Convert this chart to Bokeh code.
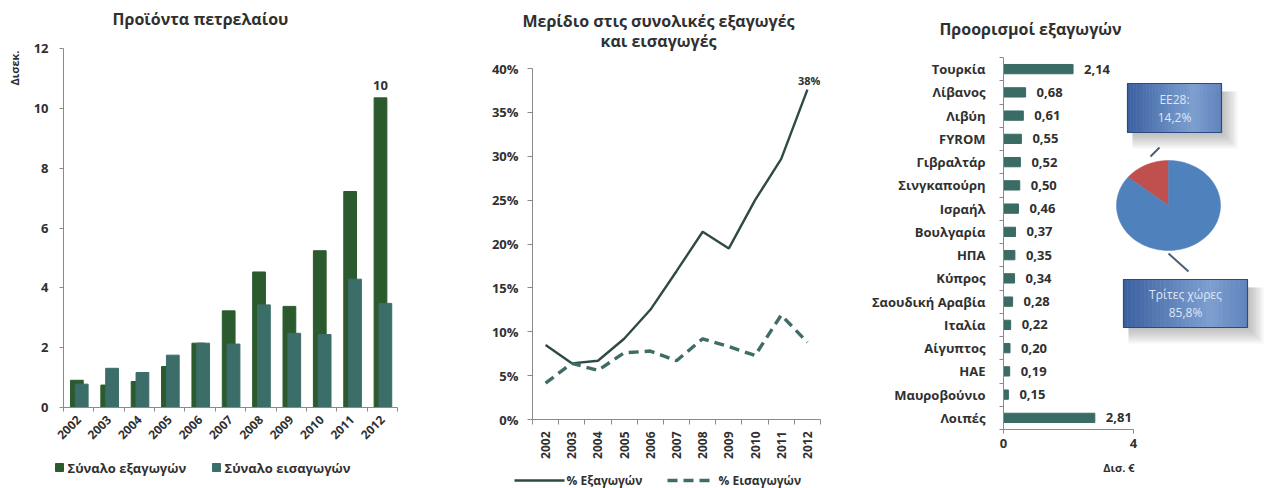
import numpy as np
from bokeh.plotting import figure
from bokeh.layouts import row, column
from bokeh.models import (Range1d, FixedTicker, PrintfTickFormatter,
                          ColumnDataSource)
from bokeh.transform import dodge
from bokeh.core.properties import value
from bokeh.embed import file_html
from bokeh.resources import INLINE

# ---------------------------------------------------------------- data
years = ["2002", "2003", "2004", "2005", "2006", "2007",
         "2008", "2009", "2010", "2011", "2012"]

# Petroleum products, billion euro
exports_bn = [0.91, 0.75, 0.87, 1.37, 2.15, 3.23, 4.53, 3.38, 5.24, 7.22, 10.35]
imports_bn = [0.78, 1.31, 1.17, 1.75, 2.15, 2.12, 3.43, 2.48, 2.44, 4.29, 3.48]
series_names = ["Σύναλο εξαγωγών", "Σύναλο εισαγωγών"]

# Share in total exports / imports, %
export_share = [8.5, 6.4, 6.7, 9.2, 12.5, 16.9, 21.4, 19.5, 25.0, 29.7, 37.6]
import_share = [4.15, 6.4, 5.6, 7.6, 7.8, 6.7, 9.2, 8.3, 7.3, 11.9, 8.8]
share_names = ["% Εξαγωγών", "% Εισαγωγών"]

# Export destinations, billion euro
destinations = ["Τουρκία", "Λίβανος", "Λιβύη", "FYROM", "Γιβραλτάρ",
                "Σινγκαπούρη", "Ισραήλ", "Βουλγαρία", "ΗΠΑ", "Κύπρος",
                "Σαουδική Αραβία", "Ιταλία", "Αίγυπτος", "ΗΑΕ",
                "Μαυροβούνιο", "Λοιπές"]
dest_values = [2.14, 0.68, 0.61, 0.55, 0.52, 0.50, 0.46, 0.37, 0.35,
               0.34, 0.28, 0.22, 0.20, 0.19, 0.15, 2.81]

# EU28 vs third countries, %
pie_names = ["ΕΕ28", "Τρίτες χώρες"]
pie_shares = [14.2, 85.8]

# ---------------------------------------------------------------- style
FONT = "Open Sans"
TXT = "#303030"
AX = "#8a8a8a"
EXP_GREEN = "#2b5a2f"
IMP_TEAL = "#3b6d69"
BAR_TEAL = "#3a6b64"
LINE_DARK = "#2e4a45"
LINE_DASH = "#3e6c66"


def comma(v, nd=2):
    return f"{v:.{nd}f}".replace(".", ",")


def no_align(p):
    # keep each panel's frame independent inside rows / columns
    if "frame_align" in p.properties():
        p.frame_align = False
    return p


def plain_fig(width, height):
    """Blank panel for titles and keys; y counts up from the bottom."""
    p = figure(width=width, height=height, x_range=Range1d(0, width),
               y_range=Range1d(0, height), output_backend="svg",
               toolbar_location=None, min_border=0,
               x_axis_type=None, y_axis_type=None)
    p.outline_line_color = None
    p.grid.grid_line_color = None
    p.background_fill_color = "white"
    p.border_fill_color = "white"
    return no_align(p)


def put_text(p, x, y_top, txt, size="13px", align="left", angle=0,
             style="bold", color=TXT):
    """Place text at x and at y_top pixels below the panel's upper edge."""
    p.text(x=[x], y=[p.height - y_top], text=[txt], text_font=value(FONT),
           text_font_size=size, text_font_style=style, text_color=color,
           text_align=align, text_baseline="middle", angle=angle)


def chart_fig(width, height, left, right, top, bottom, x_range, y_range):
    p = figure(width=width, height=height, x_range=x_range, y_range=y_range,
               output_backend="svg", toolbar_location=None,
               min_border_left=left, min_border_right=right,
               min_border_top=top, min_border_bottom=bottom)
    p.outline_line_color = None
    p.grid.grid_line_color = None
    p.background_fill_color = "white"
    p.border_fill_color = "white"
    return no_align(p)


def style_axis(ax, size="13px"):
    ax.axis_line_color = AX
    ax.axis_line_width = 1
    ax.major_label_text_font = FONT
    ax.major_label_text_font_size = size
    ax.major_label_text_font_style = "bold"
    ax.major_label_text_color = TXT
    ax.major_tick_line_color = AX
    ax.minor_tick_line_color = AX
    ax.major_tick_in = 0
    ax.minor_tick_in = 0


idx = list(range(len(years)))
boundaries = [i - 0.5 for i in range(len(years) + 1)]
year_labels = {i: y for i, y in enumerate(years)}

# ======================================================= left: bars
W1 = 430
t1 = plain_fig(W1, 40)
put_text(t1, 200, 18, "Προϊόντα πετρελαίου", size="16px", align="center")

U1 = 24                      # strip for the unit label
M1 = 412                     # main panel height
u1 = plain_fig(U1, M1)
put_text(u1, 14, 10, "Δισεκ.", size="11px", align="right", angle=np.pi / 2)

p1 = chart_fig(W1 - U1, M1, 63 - U1, 33, 8, 45,
               Range1d(-0.5, 10.5), Range1d(0, 12))
src1 = ColumnDataSource(dict(x=idx, exp=exports_bn, imp=imports_bn))
p1.vbar(x=dodge("x", -0.06), top="exp", width=0.42, source=src1,
        fill_color=EXP_GREEN, line_color=EXP_GREEN)
p1.vbar(x=dodge("x", 0.1), top="imp", width=0.42, source=src1,
        fill_color=IMP_TEAL, line_color=IMP_TEAL)
p1.text(x=[idx[-1] - 0.06], y=[exports_bn[-1]],
        text=[f"{exports_bn[-1]:.0f}"], text_font=value(FONT),
        text_font_size="13px", text_font_style="bold", text_color=TXT,
        text_align="center", text_baseline="bottom", y_offset=-8)

p1.yaxis.ticker = FixedTicker(ticks=list(range(0, 13, 2)))
style_axis(p1.yaxis[0])
p1.yaxis.major_tick_out = 4
p1.yaxis.major_label_standoff = 11
p1.xaxis.ticker = FixedTicker(ticks=idx, minor_ticks=boundaries)
style_axis(p1.xaxis[0], "12px")
p1.xaxis.major_label_overrides = year_labels
p1.xaxis.major_tick_line_color = None
p1.xaxis.minor_tick_out = 4
p1.xaxis.major_label_orientation = np.pi / 4
p1.xaxis.major_label_standoff = 4

k1 = plain_fig(W1, 488 - 40 - M1)
for x0, col, name in zip([55, 212], [EXP_GREEN, IMP_TEAL], series_names):
    k1.quad(left=[x0], right=[x0 + 8], top=[k1.height - 11],
            bottom=[k1.height - 19], fill_color=col, line_color=col)
    put_text(k1, x0 + 12, 15, name, size="13px")

chart1 = column(t1, row(u1, p1, spacing=0), k1, spacing=0)

# ======================================================= middle: shares
W2 = 430
t2 = plain_fig(W2, 56)
put_text(t2, 658 - W1, 20, "Μερίδιο στις συνολικές εξαγωγές",
         size="16px", align="center")
put_text(t2, 658 - W1, 40, "και εισαγωγές", size="16px", align="center")

M2 = 407
p2 = chart_fig(W2, M2, 532 - W1, 860 - 820, 12, 44,
               Range1d(-0.5, 10.5), Range1d(0, 40))
p2.line(idx, export_share, line_color=LINE_DARK, line_width=2.4)
p2.line(idx, import_share, line_color=LINE_DASH, line_width=3.4,
        line_dash="10 6")
p2.text(x=[idx[-1]], y=[export_share[-1]],
        text=[f"{export_share[-1]:.0f}%"], text_font=value(FONT),
        text_font_size="11px", text_font_style="bold", text_color=TXT,
        text_align="right", text_baseline="bottom", x_offset=13, y_offset=-2)

p2.yaxis.ticker = FixedTicker(ticks=list(range(0, 41, 5)))
p2.yaxis.formatter = PrintfTickFormatter(format="%d%%")
style_axis(p2.yaxis[0])
p2.yaxis.major_tick_out = 5
p2.yaxis.major_label_standoff = 9
p2.xaxis.ticker = FixedTicker(ticks=idx, minor_ticks=boundaries)
style_axis(p2.xaxis[0], "12px")
p2.xaxis.major_label_overrides = year_labels
p2.xaxis.major_tick_line_color = None
p2.xaxis.minor_tick_out = 5
p2.xaxis.major_label_orientation = np.pi / 2
p2.xaxis.major_label_standoff = 6

k2 = plain_fig(W2, 488 - 56 - M2)
ky = k2.height - 17
k2.line([514 - W1, 564 - W1], [ky, ky], line_color=LINE_DARK, line_width=2.4)
put_text(k2, 566 - W1, 17, share_names[0], size="12px")
k2.line([667 - W1, 715 - W1], [ky, ky], line_color=LINE_DASH,
        line_width=3.4, line_dash="10 6")
put_text(k2, 718 - W1, 17, share_names[1], size="12px")

chart2 = column(t2, row(p2, spacing=0), k2, spacing=0)

# ======================================================= right: destinations
W3 = 1265 - W1 - W2
X3 = W1 + W2
t3 = plain_fig(W3, 48)
put_text(t3, 1030 - X3, 28, "Προορισμοί εξαγωγών", size="16px",
         align="center")

M3 = 411
L3, R3, T3, B3 = 1003 - X3, 0, 9, 30
W3f = W3 - L3 - R3
H3f = M3 - T3 - B3
px_per_unit = 32.5
n = len(destinations)
p3 = chart_fig(W3, M3, L3, R3, T3, B3, Range1d(0, W3f / px_per_unit),
               Range1d(n - 0.5, -0.5))
didx = list(range(n))
src3 = ColumnDataSource(dict(y=didx, v=dest_values,
                             t=[comma(v) for v in dest_values]))
p3.hbar(y="y", right="v", height=0.4, source=src3,
        fill_color=BAR_TEAL, line_color=BAR_TEAL)
p3.text(x="v", y="y", text="t", source=src3, text_font=value(FONT),
        text_font_size="13px", text_font_style="bold", text_color=TXT,
        text_align="left", text_baseline="middle", x_offset=11)

p3.yaxis.ticker = FixedTicker(ticks=didx,
                              minor_ticks=[i - 0.5 for i in range(n + 1)])
style_axis(p3.yaxis[0])
p3.yaxis.major_label_overrides = {i: d for i, d in enumerate(destinations)}
p3.yaxis.major_tick_line_color = None
p3.yaxis.minor_tick_out = 4
p3.yaxis.major_label_standoff = 12
p3.xaxis.ticker = FixedTicker(ticks=[0, 4])
style_axis(p3.xaxis[0])
p3.xaxis.bounds = (0, 4)
p3.xaxis.major_tick_out = 4
p3.xaxis.major_label_standoff = 5

# pie and callouts, drawn in frame pixel coordinates
p3.extra_x_ranges = {"px": Range1d(0, W3f)}
p3.extra_y_ranges = {"py": Range1d(0, H3f)}
FB = 429                      # page row of the frame bottom
cx, cy, rx, ry = 1168 - 1003, FB - 205, 52, 45
pie_colors = ["#c0504d", "#4f81bd"]
start = np.pi / 2
for share, col in zip(pie_shares, pie_colors):
    sweep = 2 * np.pi * share / 100.0
    th = np.linspace(start, start + sweep, 90)
    xs = [cx] + list(cx + rx * np.cos(th)) + [cx]
    ys = [cy] + list(cy + ry * np.sin(th)) + [cy]
    p3.patch(xs, ys, fill_color=col, line_color=col, line_width=0.5,
             x_range_name="px", y_range_name="py")
    start += sweep

# leader lines
p3.line([147, 156], [FB - 156, FB - 147], line_color="#4d5e73", line_width=2,
        x_range_name="px", y_range_name="py")
p3.line([165, 185], [FB - 253, FB - 271], line_color="#4d5e73", line_width=2,
        x_range_name="px", y_range_name="py")


def blend(c0, c1, t):
    a = np.array([int(c0[i:i + 2], 16) for i in (1, 3, 5)], float)
    b = np.array([int(c1[i:i + 2], 16) for i in (1, 3, 5)], float)
    r, g, bl = (a + (b - a) * t).round().astype(int)
    return f"#{r:02x}{g:02x}{bl:02x}"


def callout(x0, x1, y0, y1, lines):
    # soft drop shadow below and to the right
    for k in range(12):
        g = k * 1.3
        p3.quad(left=x0 + 5, right=x1 + 2 + g, bottom=y0 - 2 - g,
                top=y1 - 8, fill_color="#6f6f6f", fill_alpha=0.045,
                line_color=None, x_range_name="px", y_range_name="py")
    # left-to-right shaded fill, lightest a little right of centre
    m = 30
    edges = np.linspace(x0, x1, m + 1)
    pos = (edges[:-1] + edges[1:]) / 2
    t = (pos - x0) / (x1 - x0)
    shade = np.where(t < 0.7, t / 0.7, 1 - (t - 0.7) / 0.3 * 0.45)
    cols = [blend("#3b61a0", "#7d9fd1", s) for s in shade]
    p3.quad(left=edges[:-1], right=edges[1:], bottom=y0, top=y1,
            fill_color=cols, line_color=cols, line_width=0.6,
            x_range_name="px", y_range_name="py")
    p3.quad(left=x0, right=x1, bottom=y0, top=y1, fill_alpha=0,
            line_color="#2c4a7e", line_width=1.2,
            x_range_name="px", y_range_name="py")
    ymid = (y0 + y1) / 2
    for j, s in enumerate(lines):
        p3.text(x=[(x0 + x1) / 2], y=[ymid + 9 - 18 * j], text=[s],
                text_font=value(FONT), text_font_size="12px",
                text_color="#dfe7f4", text_align="center",
                text_baseline="middle",
                x_range_name="px", y_range_name="py")


callout(1127 - 1003, 1221 - 1003, FB - 132, FB - 83,
        [f"{pie_names[0]}:", f"{comma(pie_shares[0], 1)}%"])
callout(1123 - 1003, 1247 - 1003, FB - 327, FB - 279,
        [pie_names[1], f"{comma(pie_shares[1], 1)}%"])

k3 = plain_fig(W3, 488 - 48 - M3)
put_text(k3, 1134 - X3, 8, "Δισ. €", size="11px", align="right")

chart3 = column(t3, row(p3, spacing=0), k3, spacing=0)

layout = row(chart1, chart2, chart3, spacing=0)
open("out.html", "w").write(file_html(layout, INLINE))
